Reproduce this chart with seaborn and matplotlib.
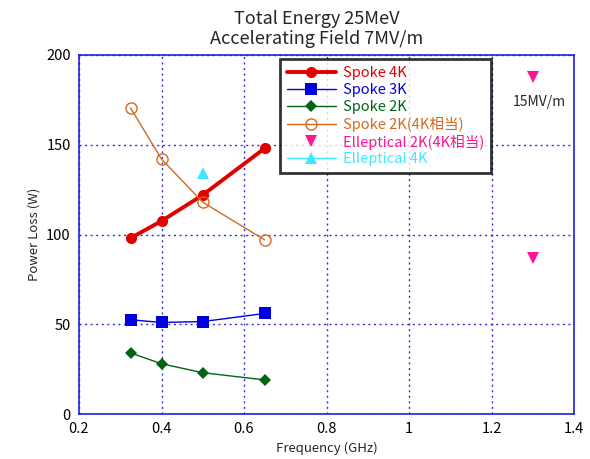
import matplotlib
matplotlib.use("Agg")
import matplotlib.pyplot as plt
import pandas as pd
import seaborn as sns

freq = [0.325, 0.4, 0.5, 0.65]
spoke_4k = [98, 107.5, 122, 148]
spoke_3k = [52.5, 51, 51.5, 56]
spoke_2k = [34, 28, 23, 19]
spoke_2k_eq = [170.5, 142, 118, 97]
ell_2k_freq = [1.3, 1.3]
ell_2k_eq = [187.5, 87]
ell_4k_freq = [0.5]
ell_4k = [134.5]

sns.set_theme(style="white")
plt.rcParams["font.family"] = ["Noto Sans CJK JP", "DejaVu Sans"]

fig = plt.figure(figsize=(5.9, 4.59), dpi=100)
ax = fig.add_axes([79 / 590, 45 / 459, 495 / 590, 359 / 459])

series = [
    ("Spoke 4K", freq, spoke_4k, dict(color="#e00000", marker="o", linewidth=2.8, markersize=8)),
    ("Spoke 3K", freq, spoke_3k, dict(color="#0000e0", marker="s", linewidth=1.0, markersize=8)),
    ("Spoke 2K", freq, spoke_2k, dict(color="#006414", marker="D", linewidth=1.0, markersize=6)),
    ("Spoke 2K(4K相当)", freq, spoke_2k_eq,
     dict(color="#d2691e", marker="o", linewidth=1.0, markersize=8, markerfacecolor="none",
          markeredgecolor="#d2691e")),
    ("Elleptical 2K(4K相当)", ell_2k_freq, ell_2k_eq,
     dict(color="#ff1493", marker="v", linestyle="", markersize=9)),
    ("Elleptical 4K", ell_4k_freq, ell_4k, dict(color="#40e8ff", marker="^", linewidth=1.0, markersize=9)),
]

for name, xs, ys, kw in series:
    df = pd.DataFrame({"x": xs, "y": ys})
    sns.lineplot(data=df, x="x", y="y", ax=ax, label=name, sort=False, estimator=None,
                 markeredgewidth=1.0 if kw.get("markerfacecolor") == "none" else 0, **kw)

ax.set_xlim(0.2, 1.4)
ax.set_ylim(0, 200)
ax.set_xticks([0.2, 0.4, 0.6, 0.8, 1.0, 1.2, 1.4])
ax.set_xticklabels(["0.2", "0.4", "0.6", "0.8", "1", "1.2", "1.4"])
ax.set_yticks([0, 50, 100, 150, 200])
ax.grid(True, color="#3030e0", linestyle=(0, (1.5, 2.5)), linewidth=1.0)
for s in ax.spines.values():
    s.set_color("#2020e0")
    s.set_linewidth(1.2)
ax.tick_params(labelsize=10.5, colors="black", length=0, pad=6)

ax.set_xlabel("Frequency (GHz)", fontsize=9.5)
ax.set_ylabel("Power Loss (W)", fontsize=9.5)
ax.set_title("Total Energy 25MeV\nAccelerating Field 7MV/m", fontsize=13, linespacing=1.1,
             pad=8, x=0.48)

ax.text(1.317, 174, "15MV/m", fontsize=10, ha="center", va="center")

leg = ax.legend(loc="upper left", bbox_to_anchor=(0.406, 0.988), fontsize=10.5,
                frameon=True, fancybox=False, handlelength=3.4, borderpad=0.45,
                labelspacing=0.2, handletextpad=0.5, borderaxespad=0)
leg.get_frame().set_edgecolor("black")
leg.get_frame().set_linewidth(2)
for text, line in zip(leg.get_texts(), leg.get_lines()):
    text.set_color(line.get_color())

fig.savefig("out.png", dpi=100)
